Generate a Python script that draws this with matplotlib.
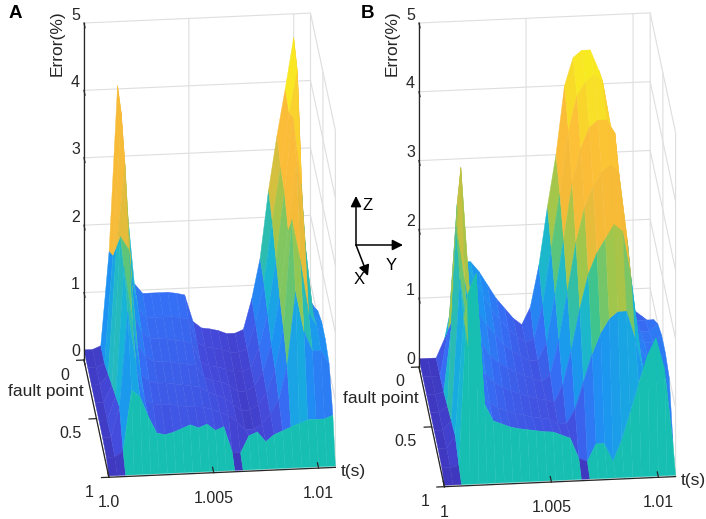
import numpy as np
import matplotlib
matplotlib.use("Agg")
import matplotlib.pyplot as plt
from matplotlib.colors import LinearSegmentedColormap, Normalize
from mpl_toolkits.mplot3d import proj3d

plt.rcParams['font.family'] = ['Liberation Sans', 'DejaVu Sans']
plt.rcParams['grid.color'] = '#dedede'
plt.rcParams['grid.linewidth'] = 0.8

# time samples (s), shared by both panels
t_cols = [1.0000, 1.0004, 1.0008, 1.0012, 1.0016, 1.0020, 1.0024, 1.0028,
          1.0032, 1.0036, 1.0040, 1.0044, 1.0048, 1.0052, 1.0056, 1.0060,
          1.0064, 1.0068, 1.0072, 1.0076, 1.0080, 1.0084, 1.0088, 1.0092,
          1.0096, 1.0100, 1.0104, 1.0108]
# fault point position, back (0) to front (1)
fault_rows = [0.0, 0.15, 0.3, 0.45, 0.6, 0.75, 0.9, 1.0]

# error (%), one list per fault point row
err_a = [
    [0.15, 0.15, 0.2, 1.6, 4.05, 2.4, 1.1, 0.95, 0.95, 0.95, 0.95, 0.93, 0.9, 0.5,
     0.4, 0.38, 0.35, 0.3, 0.3, 0.35, 0.8, 1.4, 2.4, 3.2, 3.9, 4.65, 0.9, 0.5],
    [0.15, 0.15, 0.2, 1.8, 3.9, 1.6, 1.0, 0.85, 0.85, 0.85, 0.85, 0.83, 0.8, 0.45,
     0.38, 0.36, 0.33, 0.28, 0.28, 0.32, 0.7, 1.3, 2.2, 3.0, 3.8, 4.4, 1.1, 0.9],
    [0.15, 0.15, 0.3, 2.2, 3.4, 1.2, 0.9, 0.8, 0.8, 0.78, 0.76, 0.74, 0.7, 0.42,
     0.36, 0.34, 0.3, 0.25, 0.25, 0.3, 0.6, 1.1, 1.9, 2.9, 4.0, 3.0, 1.2, 1.1],
    [0.15, 0.15, 0.4, 2.6, 2.4, 1.0, 0.8, 0.72, 0.72, 0.7, 0.68, 0.66, 0.64, 0.45,
     0.4, 0.38, 0.32, 0.22, 0.22, 0.3, 0.5, 0.9, 1.6, 2.6, 3.6, 2.4, 1.3, 1.2],
    [0.15, 0.15, 0.5, 2.4, 1.6, 0.8, 0.7, 0.66, 0.66, 0.64, 0.62, 0.6, 0.58, 0.5,
     0.45, 0.4, 0.3, 0.2, 0.2, 0.28, 0.45, 0.8, 1.4, 3.0, 2.4, 1.6, 1.4, 1.2],
    [0.15, 0.15, 0.6, 2.0, 1.2, 0.7, 0.62, 0.6, 0.6, 0.58, 0.56, 0.55, 0.54, 0.5,
     0.45, 0.4, 0.3, 0.18, 0.18, 0.25, 0.4, 0.6, 1.1, 2.2, 1.6, 1.3, 1.3, 1.1],
    [0.12, 0.12, 0.2, 1.1, 1.0, 0.7, 0.45, 0.42, 0.45, 0.5, 0.55, 0.5, 0.55, 0.45,
     0.5, 0.12, 0.1, 0.35, 0.4, 0.25, 0.35, 0.4, 0.45, 0.5, 0.55, 0.55, 0.55, 0.6],
    [0.02, 0.02, 0.02, 0.02, 0.02, 0.02, 0.02, 0.02, 0.02, 0.02, 0.02, 0.02, 0.02, 0.02,
     0.02, 0.02, 0.02, 0.02, 0.02, 0.02, 0.02, 0.02, 0.02, 0.02, 0.02, 0.02, 0.02, 0.02],
]

# error (%)
err_b = [
    [0.12, 0.12, 0.12, 0.4, 1.0, 1.5, 1.5, 1.35, 1.15, 0.95, 0.8, 0.65, 0.55, 0.8,
     1.4, 2.25, 3.0, 4.0, 4.4, 4.5, 4.5, 4.2, 2.0, 1.0, 0.8, 0.7, 0.6, 0.5],
    [0.12, 0.12, 0.12, 0.8, 2.6, 1.8, 1.5, 1.3, 1.05, 0.9, 0.75, 0.65, 0.55, 0.6,
     1.1, 1.9, 2.7, 3.6, 4.1, 4.3, 4.4, 4.3, 3.6, 1.4, 0.9, 0.8, 0.8, 0.8],
    [0.12, 0.12, 0.15, 1.2, 3.4, 1.6, 1.3, 1.1, 0.95, 0.8, 0.7, 0.62, 0.55, 0.55,
     0.8, 1.5, 2.3, 3.1, 3.6, 3.9, 4.0, 4.0, 3.8, 2.2, 1.0, 0.9, 0.9, 1.0],
    [0.12, 0.12, 0.2, 2.8, 2.0, 1.3, 1.1, 0.9, 0.8, 0.72, 0.65, 0.6, 0.55, 0.5,
     0.6, 1.1, 1.8, 2.5, 3.0, 3.3, 3.5, 3.6, 3.5, 2.5, 1.1, 1.0, 1.0, 1.1],
    [0.12, 0.12, 0.25, 2.3, 1.5, 1.0, 0.9, 0.78, 0.7, 0.65, 0.6, 0.56, 0.52, 0.5,
     0.45, 0.7, 1.2, 1.8, 2.3, 2.6, 2.8, 3.0, 2.9, 2.2, 1.2, 1.0, 1.0, 1.1],
    [0.12, 0.12, 0.3, 2.0, 1.2, 0.85, 0.75, 0.68, 0.62, 0.58, 0.55, 0.52, 0.5, 0.48,
     0.4, 0.4, 0.6, 1.0, 1.4, 1.7, 1.9, 2.0, 2.0, 1.6, 1.1, 0.9, 1.0, 1.0],
    [0.1, 0.1, 0.12, 2.6, 2.9, 1.0, 0.75, 0.7, 0.65, 0.62, 0.6, 0.58, 0.56, 0.55,
     0.5, 0.45, 0.15, 0.1, 0.35, 0.35, 0.1, 0.4, 0.8, 1.2, 1.6, 1.85, 1.4, 0.3],
    [0.02, 0.02, 0.02, 0.02, 0.02, 0.02, 0.02, 0.02, 0.02, 0.02, 0.02, 0.02, 0.02, 0.02,
     0.02, 0.02, 0.02, 0.02, 0.02, 0.02, 0.02, 0.02, 0.02, 0.02, 0.02, 0.02, 0.02, 0.02],
]

z_ticks = [0, 1, 2, 3, 4, 5]
fp_ticks = [0, 0.5, 1]
fp_ticklabels = ['0', '0.5', '1']
t_ticks = [1.0, 1.005, 1.01]
t_ticklabels_a = ['1.0', '1.005', '1.01']
t_ticklabels_b = ['1', '1.005', '1.01']

W, H = 706, 519
T_LO, T_HI = t_cols[0], t_cols[-1]
ink = '#262626'

# parula-like map, stops given in error (%) units
Z_TOP = 4.8
parula_stops = [
    (0.0, (0.24, 0.20, 0.72)),
    (0.4, (0.27, 0.29, 0.86)),
    (0.9, (0.21, 0.43, 0.96)),
    (1.4, (0.11, 0.58, 0.95)),
    (1.9, (0.09, 0.71, 0.84)),
    (2.3, (0.25, 0.77, 0.55)),
    (2.7, (0.62, 0.78, 0.30)),
    (3.1, (0.95, 0.73, 0.22)),
    (3.8, (0.99, 0.74, 0.22)),
    (4.3, (0.97, 0.88, 0.15)),
    (4.8, (0.98, 0.98, 0.08)),
]
parula_like = LinearSegmentedColormap.from_list(
    'parula_like', [(z / Z_TOP, c) for z, c in parula_stops])
norm = Normalize(0, Z_TOP)
front_teal = (0.09, 0.75, 0.70, 1.0)

fig = plt.figure(figsize=(W / 100, H / 100), dpi=100)


def to_px(ax, x, y, z):
    xs, ys, _ = proj3d.proj_transform(x, y, z, ax.M)
    p = ax.transData.transform((xs, ys))
    return p[0], H - p[1]


def make_panel(err, pos):
    ax = fig.add_axes(pos, projection='3d', proj_type='ortho')
    ax.computed_zorder = False
    ax.view_init(elev=27, azim=-5.5)
    ax.set_box_aspect((260, 228, 379))
    ax.set_xlim(0, 1)
    ax.set_ylim(T_LO, T_HI)
    ax.set_zlim(0, 5)
    ax.set_xticks(fp_ticks)
    ax.set_yticks(t_ticks)
    ax.set_zticks(z_ticks)
    for axis in (ax.xaxis, ax.yaxis, ax.zaxis):
        axis.set_pane_color((1, 1, 1, 0))
        axis.line.set_color((0, 0, 0, 0))
        axis.set_ticklabels([])
    ax.tick_params(colors=(0, 0, 0, 0))
    ax.patch.set_visible(False)

    F, T = np.meshgrid(fault_rows, t_cols, indexing='ij')
    Z = np.array(err)
    corners = np.stack([Z[:-1, :-1], Z[1:, :-1], Z[:-1, 1:], Z[1:, 1:]])
    cell = 0.5 * corners.max(axis=0) + 0.5 * corners.mean(axis=0)
    colors = np.zeros(Z.shape + (4,))
    colors[:-1, :-1] = parula_like(norm(cell))
    # front strip of the mesh is painted teal where it stands up
    edge = (Z[-2, :-1] + Z[-2, 1:]) / 2
    strip = colors[-2, :-1]
    strip[edge >= 0.2] = front_teal
    ax.plot_surface(F, T, Z, facecolors=colors, rstride=1, cstride=1,
                    shade=False, linewidth=0.3, antialiased=True, zorder=1)

    # axis lines and ticks, matlab style
    lk = dict(color=ink, lw=0.9, zorder=5)
    ax.plot([0, 0], [T_LO, T_LO], [0, 5], **lk)
    ax.plot([0, 1], [T_LO, T_LO], [0, 0], **lk)
    ax.plot([1, 1], [T_LO, T_HI], [0, 0], **lk)
    for z in z_ticks:
        ax.plot([0, 0.04], [T_LO, T_LO], [z, z], **lk)
    for f in fp_ticks:
        ax.plot([f, f], [T_LO, T_LO - 0.00035], [0, 0], **lk)
    for t in t_ticks:
        ax.plot([1, 0.955], [t, t], [0, 0], **lk)
    return ax


def anchor(ax, bot, top):
    # scale/shift the square 3d box so the z axis lands on the target pixels
    for _ in range(3):
        fig.canvas.draw()
        bx, by = to_px(ax, 0, T_LO, 0)
        tx, ty = to_px(ax, 0, T_LO, 5)
        bb = ax.get_position()
        s0 = bb.width * W
        x0, y0 = bb.x0 * W, H - bb.y0 * H
        k = (bot[1] - top[1]) / (by - ty)
        s = s0 * k
        ux, uy = (bx - x0) / s0, (by - y0) / s0
        nx = bot[0] - ux * s
        ny = bot[1] - uy * s
        ax.set_position([nx / W, 1 - ny / H, s / W, s / H])


ax_a = make_panel(err_a, [0.0, 0.0, 0.6, 0.6 * W / H])
ax_b = make_panel(err_b, [0.4, 0.0, 0.6, 0.6 * W / H])
anchor(ax_a, (84, 360), (84, 23))
anchor(ax_b, (419, 367), (419, 23))
fig.canvas.draw()

ov = fig.add_axes([0, 0, 1, 1])
ov.set_xlim(0, W)
ov.set_ylim(H, 0)
ov.axis('off')
ov.patch.set_alpha(0)

tk = dict(color=ink, fontsize=11.5)
lb = dict(color=ink, fontsize=12.5)


def put(ax, xyz, dx, dy, s, **kw):
    x, y = to_px(ax, *xyz)
    ov.text(x + dx, y + dy, s, **kw)


for ax, t_labels in ((ax_a, t_ticklabels_a), (ax_b, t_ticklabels_b)):
    for z in z_ticks:
        put(ax, (0, T_LO, z), -4, -8, str(z), ha='right', va='center', **tk)
    for f, s in zip(fp_ticks, fp_ticklabels):
        put(ax, (f, T_LO, 0), -15, 15, s, ha='right', va='center', **tk)
    for t, s in zip(t_ticks, t_labels):
        put(ax, (1, t, 0), 0, 18, s, ha='center', va='top', **tk)
    put(ax, (0.25, T_LO, 0), -7, 2, 'fault point', ha='right', va='center', **lb)
    put(ax, (1, T_HI, 0), 5, 4, 't(s)', ha='left', va='center', **lb)
    put(ax, (0, T_LO, 4.7), -27, 0, 'Error(%)', ha='center', va='center',
        rotation=90, **lb)

ov.text(15, 14, 'A', fontsize=13.5, fontweight='bold', ha='center', va='center')
ov.text(368, 14, 'B', fontsize=13.5, fontweight='bold', ha='center', va='center')

# coordinate system indicator between the panels
ap = dict(arrowstyle='-|>', color='black', lw=1.1, mutation_scale=16,
          shrinkA=0, shrinkB=0)
origin = (356, 245)
ov.annotate('', xy=(356, 196), xytext=origin, arrowprops=ap)
ov.annotate('', xy=(403, 245), xytext=origin, arrowprops=ap)
ov.annotate('', xy=(368, 276), xytext=origin, arrowprops=ap)
ov.text(368, 205, 'Z', fontsize=12, ha='center', va='center')
ov.text(391, 265, 'Y', fontsize=12, ha='center', va='center')
ov.text(359, 280, 'X', fontsize=12, ha='center', va='center')

fig.savefig('out.png', dpi=100)
